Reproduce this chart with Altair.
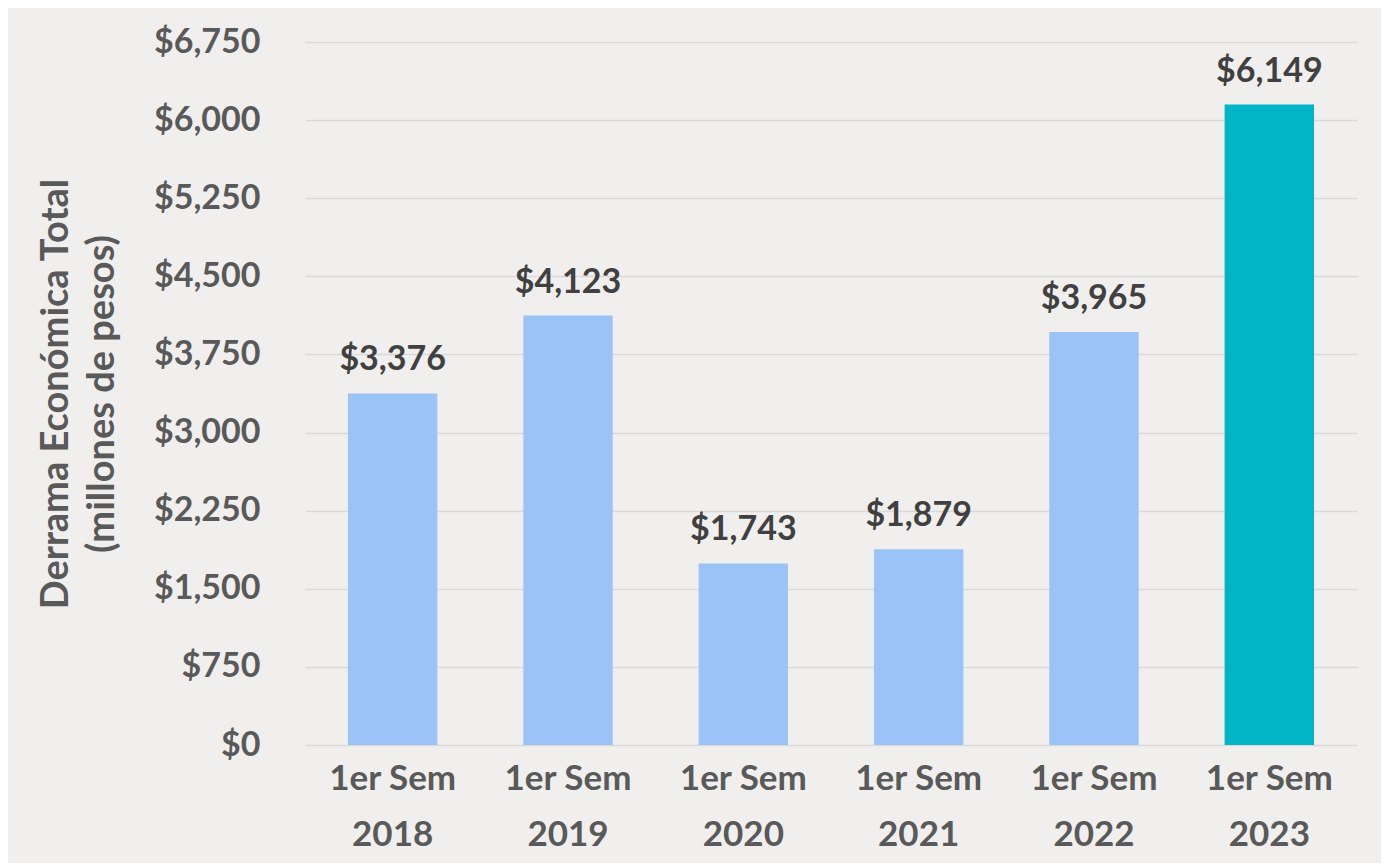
import altair as alt
import pandas as pd

categories = ["1er Sem 2018", "1er Sem 2019", "1er Sem 2020", "1er Sem 2021", "1er Sem 2022", "1er Sem 2023"]
values = [3376, 4123, 1743, 1879, 3965, 6149]
labels = ["$3,376", "$4,123", "$1,743", "$1,879", "$3,965", "$6,149"]
highlight = ["no", "no", "no", "no", "no", "yes"]
y_ticks = [0, 750, 1500, 2250, 3000, 3750, 4500, 5250, 6000, 6750]

df = pd.DataFrame({"cat": categories, "val": values, "lab": labels, "hl": highlight})

FONT = "Lato"
TXT = "#595959"

base = alt.Chart(df).encode(
    x=alt.X("cat:N", sort=categories, title=None,
            scale=alt.Scale(paddingInner=0.49, paddingOuter=0.245),
            axis=alt.Axis(labelAngle=0, labelFont=FONT, labelFontSize=35, labelFontWeight="bold",
                          labelColor=TXT, labelLineHeight=56, labelPadding=16,
                          labelExpr="[slice(datum.label, 0, 7), slice(datum.label, 8)]",
                          ticks=False, domain=False, grid=False)),
)

bars = base.mark_bar().encode(
    y=alt.Y("val:Q", scale=alt.Scale(domain=[0, 6750], nice=False),
            title=["Derrama Económica Total", "(millones de pesos)"],
            axis=alt.Axis(values=y_ticks, format="$,.0f", labelFont=FONT, labelFontSize=34,
                          labelFontWeight="bold", labelColor=TXT, labelPadding=45, ticks=False,
                          domain=False, grid=True, gridColor="#d9d9d9", gridWidth=1.5,
                          titleFont=FONT, titleFontSize=38, titleFontWeight="bold", titleColor=TXT,
                          titleLineHeight=46, titlePadding=32)),
    color=alt.Color("hl:N", scale=alt.Scale(domain=["no", "yes"], range=["#9cc3f7", "#02b5c6"]),
                    legend=None),
)

text = base.mark_text(font=FONT, fontSize=34, fontWeight="bold", color="#404040",
                      baseline="bottom", dy=-16).encode(
    y=alt.Y("val:Q"),
    text="lab:N",
)

chart = (bars + text).properties(
    width=1052, height=703,
    autosize=alt.AutoSizeParams(type="none"),
    padding={"left": 297, "top": 34, "right": 24, "bottom": 118},
    background="#f0efed",
).configure_view(stroke=None)

chart.save("out.html", embed_options={"renderer": "svg", "actions": False})
